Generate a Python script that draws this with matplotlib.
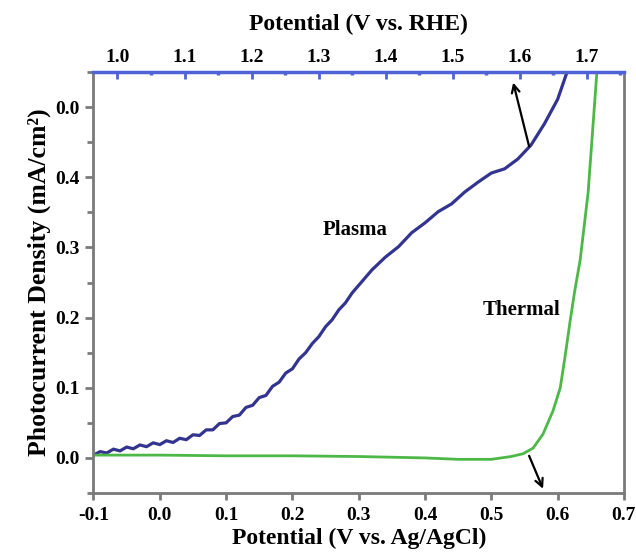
import matplotlib
matplotlib.use("Agg")
import matplotlib.pyplot as plt
from matplotlib.ticker import FixedLocator, MultipleLocator

# ---------------- data ----------------
plasma_x = [-0.10, -0.09, -0.08, -0.07, -0.06, -0.05, -0.04, -0.03, -0.02, -0.01,
            0.00, 0.01, 0.02, 0.03, 0.04, 0.05, 0.06, 0.07, 0.08, 0.09,
            0.10, 0.11, 0.12, 0.13, 0.14, 0.15, 0.16, 0.17, 0.18, 0.19,
            0.20, 0.21, 0.22, 0.23, 0.24, 0.25, 0.26, 0.27, 0.28, 0.29,
            0.30, 0.32, 0.34, 0.36, 0.38, 0.40, 0.42, 0.44, 0.46, 0.48,
            0.50, 0.52, 0.54, 0.56, 0.58, 0.60, 0.615, 0.62]
plasma_y = [0.004, 0.009, 0.007, 0.0125, 0.010, 0.0155, 0.013, 0.0185, 0.016, 0.0215,
            0.019, 0.0245, 0.022, 0.028, 0.026, 0.033, 0.032, 0.040, 0.040, 0.049,
            0.050, 0.059, 0.061, 0.072, 0.075, 0.086, 0.089, 0.102, 0.108, 0.121,
            0.127, 0.141, 0.150, 0.163, 0.173, 0.187, 0.197, 0.211, 0.221, 0.235,
            0.246, 0.268, 0.286, 0.301, 0.321, 0.335, 0.351, 0.362, 0.379, 0.393,
            0.406, 0.412, 0.426, 0.446, 0.476, 0.511, 0.552, 0.565]

thermal_x = [-0.10, 0.00, 0.10, 0.20, 0.30, 0.40, 0.45, 0.50, 0.53, 0.548,
             0.563, 0.578, 0.593, 0.604, 0.611, 0.619, 0.626, 0.634, 0.646, 0.659, 0.662]
thermal_y = [0.004, 0.004, 0.003, 0.003, 0.002, 0.000, -0.002, -0.002, 0.002, 0.006,
             0.014, 0.034, 0.067, 0.100, 0.143, 0.196, 0.239, 0.282, 0.378, 0.547, 0.600]

bottom_ticks = [-0.1, 0.0, 0.1, 0.2, 0.3, 0.4, 0.5, 0.6, 0.7]
bottom_labels = ["-0.1", "0.0", "0.1", "0.2", "0.3", "0.4", "0.5", "0.6", "0.7"]
left_ticks = [0.0, 0.1, 0.2, 0.3, 0.4, 0.5]
left_labels = ["0.0", "0.1", "0.2", "0.3", "0.4", "0.0"]
top_ticks = [1.0, 1.1, 1.2, 1.3, 1.4, 1.5, 1.6, 1.7]
top_labels = ["1.0", "1.1", "1.2", "1.3", "1.4", "1.5", "1.6", "1.7"]
top_minor = [1.05, 1.15, 1.25, 1.35, 1.45, 1.55, 1.65, 1.75]

# ---------------- style ----------------
plt.rcParams['font.family'] = ['Liberation Serif', 'DejaVu Serif']
plt.rcParams['font.weight'] = 'bold'

BLUE = '#33348F'
GREEN = '#4DB848'
TOPBLUE = '#4F63D6'
GRAY = '#7A7A7A'

fig = plt.figure(figsize=(6.36, 5.56), dpi=100)
ax = fig.add_axes([0.147, 0.1133, 0.834, 0.7572])

ax.plot(plasma_x, plasma_y, color=BLUE, lw=2.3, solid_joinstyle='round')
ax.plot(thermal_x, thermal_y, color=GREEN, lw=2.0)

ax.set_xlim(-0.1, 0.7)
ax.set_ylim(-0.05, 0.55)

ax.set_xticks(bottom_ticks)
ax.set_xticklabels(bottom_labels)
ax.set_yticks(left_ticks)
ax.set_yticklabels(left_labels)
ax.yaxis.set_minor_locator(MultipleLocator(0.05))

for side in ['left', 'right', 'bottom']:
    ax.spines[side].set_color(GRAY)
    ax.spines[side].set_linewidth(2.0)
ax.spines['top'].set_visible(False)

ax.tick_params(axis='x', which='major', direction='out', length=5, width=2,
               color=GRAY, labelsize=14, pad=5)
ax.tick_params(axis='y', which='major', direction='out', length=6, width=2,
               color=GRAY, labelsize=14, pad=4)
ax.tick_params(axis='y', which='minor', direction='out', length=4, width=2, color=GRAY)
for lab in ax.get_xticklabels() + ax.get_yticklabels():
    lab.set_fontweight('bold')

ax.set_xlabel("Potential (V vs. Ag/AgCl)", fontsize=17, fontweight='bold', labelpad=3)
ax.set_ylabel("Photocurrent Density (mA/cm²)", fontsize=18.5, fontweight='bold', labelpad=3)

# top axis (RHE)
ax2 = ax.twiny()
ax2.set_xlim(0.9642, 1.7552)
ax2.set_xticks(top_ticks)
ax2.set_xticklabels(top_labels)
ax2.xaxis.set_minor_locator(FixedLocator(top_minor))
for side in ['left', 'right', 'bottom']:
    ax2.spines[side].set_visible(False)
ax2.spines['top'].set_color(TOPBLUE)
ax2.spines['top'].set_linewidth(2.5)
ax2.tick_params(axis='x', which='major', direction='in', length=5, width=2,
                color=TOPBLUE, labelsize=14, pad=4)
ax2.tick_params(axis='x', which='minor', direction='in', length=2.5, width=2.5,
                color=TOPBLUE)
for lab in ax2.get_xticklabels():
    lab.set_fontweight('bold')
ax2.set_xlabel("Potential (V vs. RHE)", fontsize=17, fontweight='bold', labelpad=14)

# annotations
ax.text(0.294, 0.325, "Plasma", fontsize=15, fontweight='bold', ha='center', va='center')
ax.text(0.545, 0.211, "Thermal", fontsize=15, fontweight='bold', ha='center', va='center')

ax.annotate("", xy=(0.533, 0.535), xytext=(0.557, 0.444),
            arrowprops=dict(arrowstyle='->', color='black', lw=1.6,
                            mutation_scale=14, shrinkA=0, shrinkB=0))
ax.annotate("", xy=(0.578, -0.044), xytext=(0.557, 0.003),
            arrowprops=dict(arrowstyle='->', color='black', lw=1.6,
                            mutation_scale=14, shrinkA=0, shrinkB=0))

fig.savefig("out.png", dpi=100)
